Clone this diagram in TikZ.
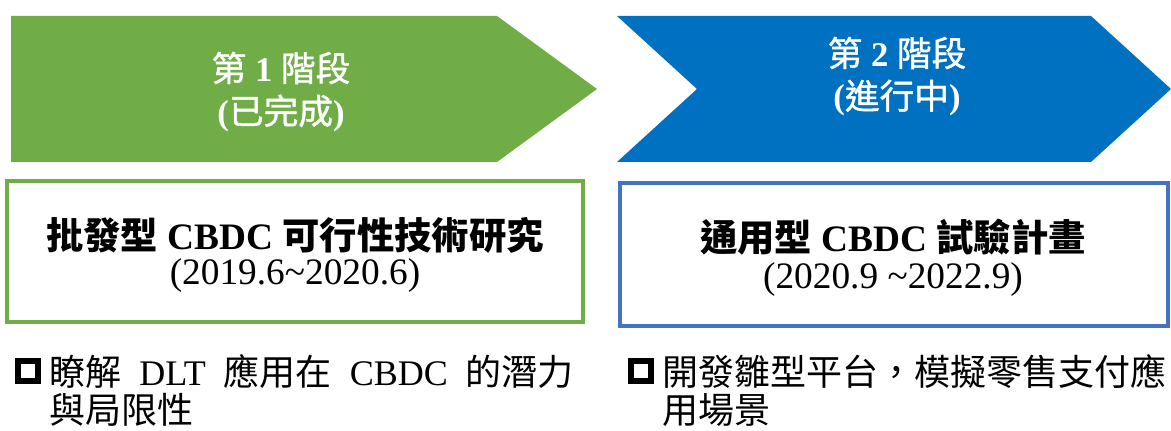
\documentclass[tikz,border=0pt]{standalone}
\usepackage{fontspec}
\setmainfont{Liberation Serif}
\newfontfamily\cjk{Noto Sans CJK TC}
\newfontfamily\cjkmed{Noto Sans CJK TC}[FakeBold=1.2]
\definecolor{pgreen}{HTML}{70AD47}
\definecolor{pblue}{HTML}{0070C0}
\definecolor{bblue}{HTML}{4472C4}
\tikzset{
  stagetxt/.style={text=white, font=\fontsize{26pt}{30pt}\selectfont\bfseries, inner sep=0pt},
  titletxt/.style={font=\fontsize{28pt}{32pt}\selectfont\bfseries, inner sep=0pt},
  yeartxt/.style={font=\fontsize{28pt}{32pt}\selectfont, inner sep=0pt},
  bullettxt/.style={font=\fontsize{27pt}{32pt}\selectfont, inner sep=0pt, anchor=west},
  bulletbox/.style={draw=black, line width=5pt, minimum size=15pt, inner sep=0pt},
  framebox/.style={draw=#1, line width=3pt, inner sep=0pt},
}
\newcommand{\cm}[1]{{\cjkmed\mdseries #1}}
\newcommand{\gap}{\hspace{0.5em}}
\begin{document}
\begin{tikzpicture}[x=0.75pt,y=-0.75pt]
\useasboundingbox (0,0) rectangle (1171,431);
% stage arrows
\fill[pgreen] (11,16) -- (497,16) -- (597,89) -- (497,162) -- (11,162) -- cycle;
\fill[pblue] (617,16) -- (1091,16) -- (1171,89) -- (1091,162) -- (617,162) -- (697,89) -- cycle;
\node[stagetxt] (s1a) at (281,68) {\cm{第} 1 \cm{階段}};
\node[stagetxt] (s1b) at (281,113) {(\cm{已完成})};
\node[stagetxt] (s2a) at (897,53) {\cm{第} 2 \cm{階段}};
\node[stagetxt] (s2b) at (897,98) {(\cm{進行中})};
% boxes
\node[framebox=pgreen, minimum width=432pt, minimum height=105.75pt] (b1) at (295,251.5) {};
\node[framebox=bblue, minimum width=411pt, minimum height=107.25pt] (b2) at (894,254.5) {};
\node[titletxt] (t1) at (295,235) {{\cjk 批發型} CBDC {\cjk 可行性技術研究}};
\node[yeartxt] (y1) at (295,276) {(2019.6\textasciitilde 2020.6)};
\node[titletxt] (t2) at (893,237) {{\cjk 通用型} CBDC {\cjk 試驗計畫}};
\node[yeartxt] (y2) at (893,280) {(2020.9 \textasciitilde 2022.9)};
% bullets
\node[bulletbox] (q1) at (28,371) {};
\node[bullettxt] (l1a) at (49,372) {{\cjk 瞭解}\gap DLT\gap{\cjk 應用在}\gap CBDC\gap{\cjk 的潛力}};
\node[bullettxt] (l1b) at (49,410) {\cjk 與局限性};
\node[bulletbox] (q2) at (641,371) {};
\node[bullettxt] (l2a) at (662,372) {\cjk 開發雛型平台，模擬零售支付應};
\node[bullettxt] (l2b) at (662,410) {\cjk 用場景};
\end{tikzpicture}
\end{document}
